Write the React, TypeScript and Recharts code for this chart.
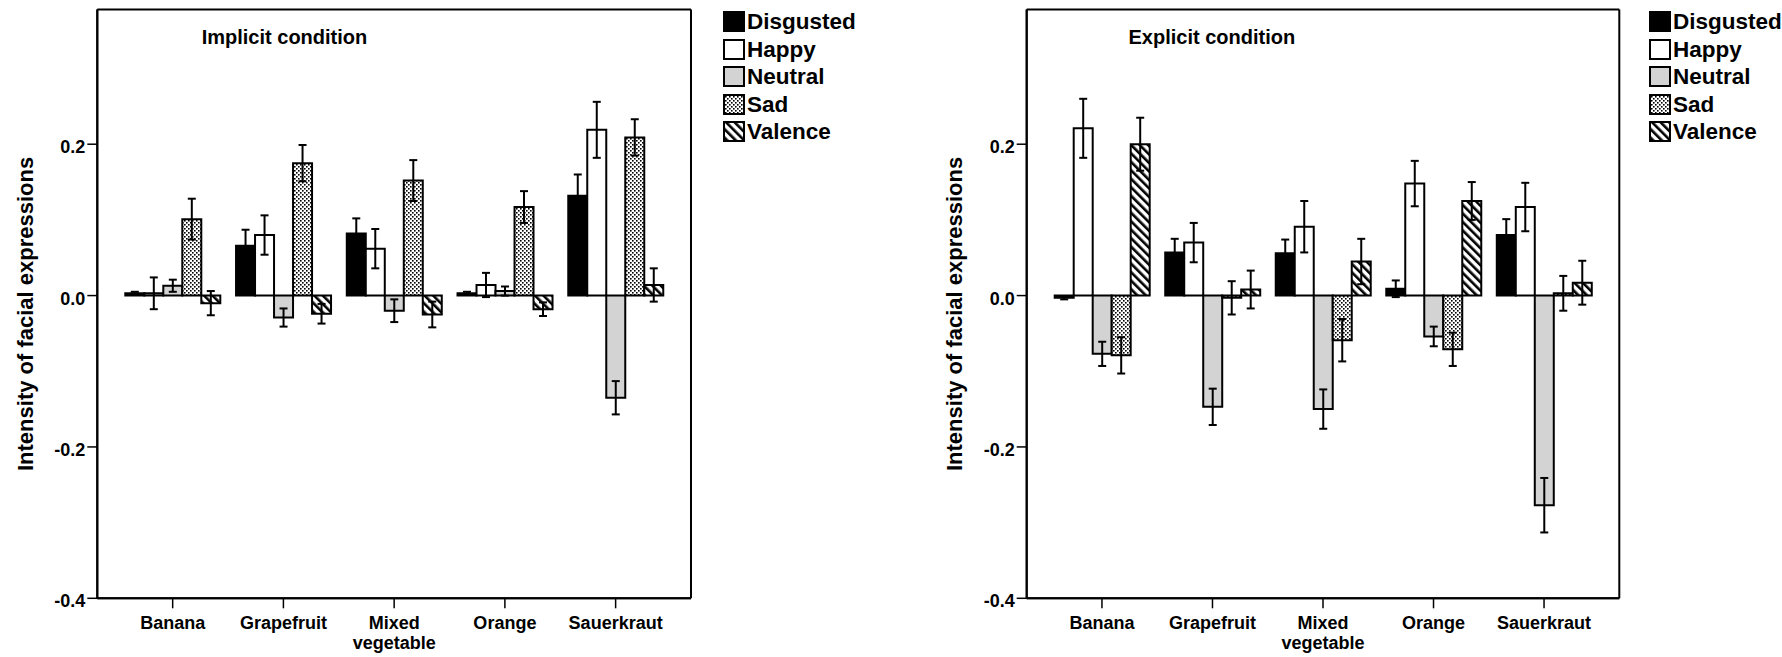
import React from 'react';
import { BarChart, Bar, XAxis, YAxis, ErrorBar, Label, CartesianGrid } from 'recharts';

const FONT = "'Liberation Sans', Arial, Helvetica, sans-serif";

const categories = ['Banana', 'Grapefruit', 'Mixed vegetable', 'Orange', 'Sauerkraut'];
const seriesNames = ['Disgusted', 'Happy', 'Neutral', 'Sad', 'Valence'];
const yTicks = [-0.4, -0.2, 0, 0.2];
const yDomain = [-0.4, 0.378];
const yAxisTitle = 'Intensity of facial expressions';

// Implicit condition (means and error-bar half widths)
const implicitDisgusted = [0.003, 0.066, 0.082, 0.003, 0.132];
const implicitHappy = [0.003, 0.080, 0.062, 0.014, 0.219];
const implicitNeutral = [0.013, -0.029, -0.020, 0.006, -0.135];
const implicitSad = [0.101, 0.175, 0.152, 0.117, 0.209];
const implicitValence = [-0.010, -0.024, -0.025, -0.018, 0.014];

const implicitDisgustedErr = [0.002, 0.021, 0.020, 0.002, 0.028];
const implicitHappyErr = [0.021, 0.026, 0.026, 0.016, 0.037];
const implicitNeutralErr = [0.008, 0.012, 0.015, 0.006, 0.022];
const implicitSadErr = [0.027, 0.024, 0.027, 0.021, 0.024];
const implicitValenceErr = [0.016, 0.013, 0.017, 0.009, 0.022];

// Explicit condition
const explicitDisgusted = [-0.003, 0.057, 0.056, 0.009, 0.080];
const explicitHappy = [0.221, 0.070, 0.091, 0.148, 0.117];
const explicitNeutral = [-0.077, -0.147, -0.150, -0.054, -0.277];
const explicitSad = [-0.079, -0.003, -0.059, -0.071, 0.003];
const explicitValence = [0.200, 0.008, 0.045, 0.125, 0.017];

const explicitDisgustedErr = [0.002, 0.018, 0.018, 0.011, 0.021];
const explicitHappyErr = [0.039, 0.026, 0.034, 0.030, 0.032];
const explicitNeutralErr = [0.016, 0.024, 0.026, 0.013, 0.036];
const explicitSadErr = [0.024, 0.022, 0.028, 0.022, 0.023];
const explicitValenceErr = [0.035, 0.025, 0.030, 0.025, 0.029];

function buildRows(values: number[][], errors: number[][]) {
  return categories.map((c, i) => {
    const row: any = { category: c };
    seriesNames.forEach((s, j) => {
      row[s] = values[j][i];
      row[s + 'Err'] = errors[j][i];
    });
    return row;
  });
}

const implicitRows = buildRows(
  [implicitDisgusted, implicitHappy, implicitNeutral, implicitSad, implicitValence],
  [implicitDisgustedErr, implicitHappyErr, implicitNeutralErr, implicitSadErr, implicitValenceErr]
);
const explicitRows = buildRows(
  [explicitDisgusted, explicitHappy, explicitNeutral, explicitSad, explicitValence],
  [explicitDisgustedErr, explicitHappyErr, explicitNeutralErr, explicitSadErr, explicitValenceErr]
);

function fillFor(name: string, id: string) {
  switch (name) {
    case 'Disgusted': return '#000000';
    case 'Happy': return '#ffffff';
    case 'Neutral': return '#d3d3d3';
    case 'Sad': return `url(#sad-${id})`;
    default: return `url(#val-${id})`;
  }
}

function PatternDefs({ id }: { id: string }) {
  return (
    <defs>
      <pattern id={`sad-${id}`} width="4" height="4" patternUnits="userSpaceOnUse">
        <rect width="4" height="4" fill="#ffffff" />
        <rect x="0" y="0" width="1.6" height="1.6" fill="#000000" />
        <rect x="2" y="2" width="1.6" height="1.6" fill="#000000" />
      </pattern>
      <pattern id={`val-${id}`} width="6" height="6" patternUnits="userSpaceOnUse" patternTransform="rotate(-45)">
        <rect width="6" height="6" fill="#ffffff" />
        <rect x="0" y="0" width="2.6" height="6" fill="#000000" />
      </pattern>
    </defs>
  );
}

const CategoryTick = (props: any) => {
  const { x, y, payload } = props;
  const lines = String(payload.value).split(' ');
  return (
    <g transform={`translate(${x},${y})`}>
      {lines.map((l, i) => (
        <text key={i} x={0} y={19 + i * 20} textAnchor="middle" fontFamily={FONT}
          fontSize={18} fontWeight="bold" fill="#000">{l}</text>
      ))}
    </g>
  );
};

const ValueTick = (props: any) => {
  const { x, y, payload } = props;
  return (
    <text x={x} y={y + 9} textAnchor="end" fontFamily={FONT} fontSize={18}
      fontWeight="bold" fill="#000">{Number(payload.value).toFixed(1)}</text>
  );
};

type PanelProps = {
  id: string;
  title: string;
  rows: any[];
  left: number;
  width: number;
  plotLeft: number;
  plotRight: number;
  titleLeft: number;
  legendLeft: number;
};

const PLOT_TOP = 9.5;
const PLOT_BOTTOM = 598.3;
const H = 657;
const YAXIS_W = 80;
const XAXIS_H = 50;

function Panel(p: PanelProps) {
  const margin = {
    top: PLOT_TOP,
    bottom: H - PLOT_BOTTOM - XAXIS_H,
    left: p.plotLeft - p.left - YAXIS_W,
    right: p.left + p.width - p.plotRight,
  };
  const frameLeft = p.plotLeft - p.left;
  const frameRight = p.plotRight - p.left;
  return (
    <div style={{ position: 'absolute', left: p.left, top: 0, width: p.width, height: H }}>
      <BarChart width={p.width} height={H} data={p.rows} margin={margin}
        barCategoryGap={8} barGap={0}>
        <PatternDefs id={p.id} />
        <CartesianGrid stroke="#000" strokeWidth={2} fill="none"
          horizontalCoordinatesGenerator={() => [PLOT_TOP, PLOT_BOTTOM]}
          verticalCoordinatesGenerator={() => [frameLeft, frameRight]} />
        <XAxis dataKey="category" padding={{ left: 20, right: 20 }}
          height={XAXIS_H} axisLine={{ stroke: '#000', strokeWidth: 2 }}
          tickLine={{ stroke: '#000', strokeWidth: 1.5 }} tickSize={10}
          tick={<CategoryTick />} interval={0} />
        <YAxis domain={yDomain} ticks={yTicks} allowDataOverflow width={YAXIS_W}
          axisLine={{ stroke: '#000', strokeWidth: 2 }}
          tickLine={{ stroke: '#000', strokeWidth: 1.5 }} tickSize={10}
          tick={<ValueTick />} interval={0}>
          <Label content={(lp: any) => {
            const vb = lp.viewBox || { x: 0, y: 0, width: 0, height: 0 };
            const cx = vb.x + 8;
            const cy = vb.y + vb.height / 2 + 10;
            return (
              <text x={cx} y={cy} transform={`rotate(-90, ${cx}, ${cy})`} textAnchor="middle"
                dominantBaseline="central" fontFamily={FONT} fontSize={22} fontWeight="bold" fill="#000">
                {yAxisTitle}
              </text>
            );
          }} />
        </YAxis>
        {seriesNames.map((s) => (
          <Bar key={s} dataKey={s} fill={fillFor(s, p.id)}
            stroke="#000" strokeWidth={2} isAnimationActive={false}>
            <ErrorBar dataKey={s + 'Err'} width={4} stroke="#000" strokeWidth={2} direction="y" />
          </Bar>
        ))}
      </BarChart>
      <div style={{
        position: 'absolute', left: p.titleLeft - p.left, top: 27, fontFamily: FONT,
        fontSize: 20, lineHeight: '20px', fontWeight: 'bold', color: '#000', whiteSpace: 'nowrap',
      }}>{p.title}</div>
      <div style={{ position: 'absolute', left: p.legendLeft - p.left, top: 11 }}>
        {seriesNames.map((s, i) => (
          <div key={s} style={{ position: 'absolute', left: 0, top: i * 27.5, height: 21, width: 140 }}>
            <svg width={22} height={21} style={{ position: 'absolute', left: 0, top: 0 }}>
              <rect x={1} y={1} width={20} height={19} fill={fillFor(s, p.id)} stroke="#000" strokeWidth={2} />
            </svg>
            <div style={{
              position: 'absolute', left: 24, top: 0, height: 21, lineHeight: '21px',
              fontFamily: FONT, fontSize: 22.5, fontWeight: 'bold', color: '#000', whiteSpace: 'nowrap',
            }}>{s}</div>
          </div>
        ))}
      </div>
    </div>
  );
}

export default function App() {
  return (
    <div style={{ position: 'absolute', left: 0, top: 0, width: 1782, height: 657, background: '#fff', overflow: 'hidden' }}>
      <Panel id="imp" title="Implicit condition" rows={implicitRows} left={0} width={891}
        plotLeft={97.3} plotRight={691} titleLeft={201.7} legendLeft={723} />
      <Panel id="exp" title="Explicit condition" rows={explicitRows} left={891} width={891}
        plotLeft={1026.7} plotRight={1619.3} titleLeft={1128.5} legendLeft={1649} />
    </div>
  );
}
